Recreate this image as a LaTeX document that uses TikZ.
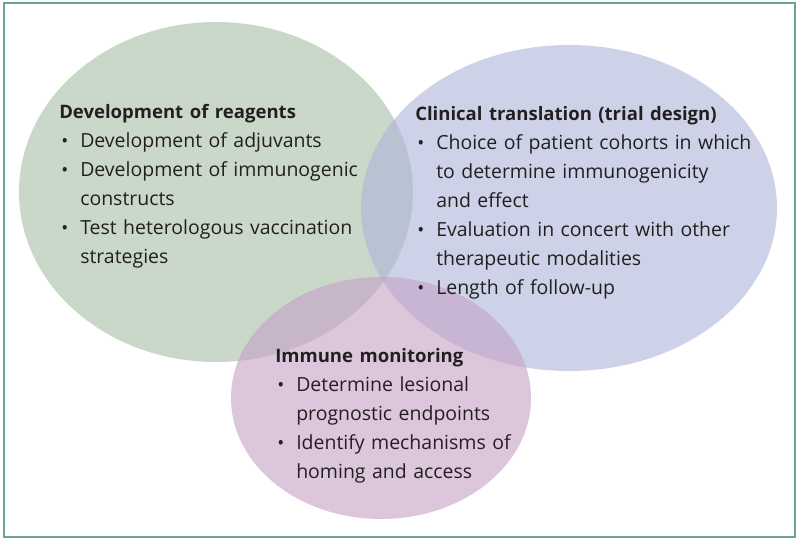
\documentclass[tikz,border=0pt]{standalone}
\usepackage{fontspec}
\setmainfont{Open Sans}
\usepackage{xcolor}
\usepackage{tikz}
\usetikzlibrary{shapes.geometric}
\definecolor{venngreen}{RGB}{167,190,167}
\definecolor{vennblue}{RGB}{172,180,217}
\definecolor{vennpurple}{RGB}{197,160,197}
\definecolor{frameteal}{RGB}{108,165,143}
\definecolor{textdark}{RGB}{35,31,32}
\newcommand{\bul}{\makebox[15.75pt][l]{\hspace*{1.5pt}\scalebox{0.95}{\textbullet}}}
\newcommand{\ind}{\hspace*{15.75pt}}
\newcommand{\heading}[1]{{\fontsize{13.9}{21.75}\selectfont\bfseries #1}}
\tikzset{
  venn/.style={ellipse, inner sep=0pt, draw=none, fill opacity=0.6},
  block/.style={anchor=base west, inner sep=0pt, align=left, text width=12cm, text=textdark,
    font=\fontsize{14.6}{21.75}\selectfont},
  frame/.style={draw=frameteal, line width=1.1pt}
}
\begin{document}
\begin{tikzpicture}[x=0.75pt, y=-0.75pt]
  \useasboundingbox[fill=white] (0,0) rectangle (800,543);
  \draw[frame] (4,3) rectangle (795,537);

  % the three circles
  \node[venn, fill=venngreen, minimum width=295.5pt, minimum height=255pt] (reagents) at (216,192) {};
  \node[venn, fill=vennblue, minimum width=312pt, minimum height=244.5pt] (clinical) at (569,208) {};
  \node[venn, fill=vennpurple, minimum width=225pt, minimum height=181.5pt] (monitoring) at (381,398) {};

  % texts
  \node[block] (reagentstext) at (59,118) {\heading{Development of reagents}\\
    \bul Development of adjuvants\\
    \bul Development of immunogenic\\
    \ind constructs\\
    \bul Test heterologous vaccination\\
    \ind strategies};
  \node[block] (clinicaltext) at (415,120) {\heading{Clinical translation (trial design)}\\
    \bul Choice of patient cohorts in which\\
    \ind to determine immunogenicity\\
    \ind and effect\\
    \bul Evaluation in concert with other\\
    \ind therapeutic modalities\\
    \bul Length of follow-up};
  \node[block] (monitoringtext) at (275,362) {\heading{Immune monitoring}\\
    \bul Determine lesional\\
    \ind prognostic endpoints\\
    \bul Identify mechanisms of\\
    \ind homing and access};
\end{tikzpicture}
\end{document}
